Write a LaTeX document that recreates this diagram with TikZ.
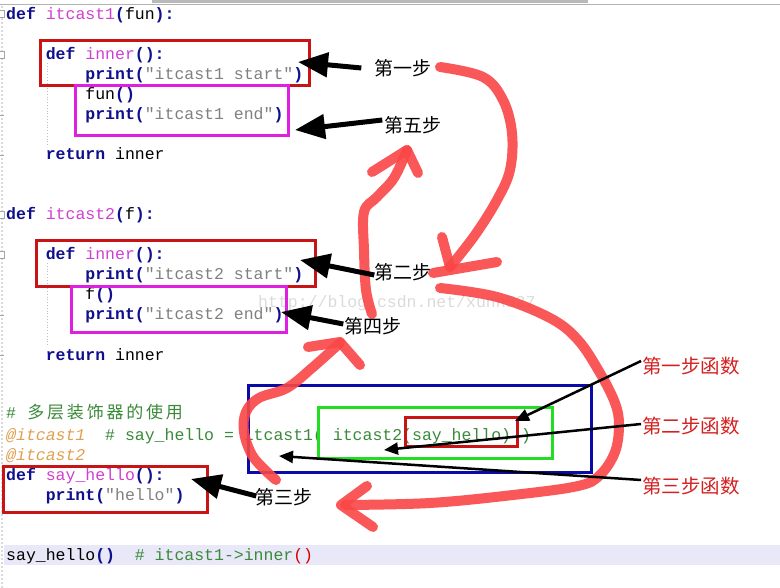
\documentclass[tikz,border=0pt]{standalone}
\usepackage{fontspec}
\setmonofont{Liberation Mono}
\newfontfamily\cjk{Noto Sans CJK SC}
\usetikzlibrary{arrows.meta}
\definecolor{kw}{HTML}{10108C}
\definecolor{fn}{HTML}{D040D0}
\definecolor{strc}{HTML}{808080}
\definecolor{cmt}{HTML}{3A8A3A}
\definecolor{deco}{HTML}{E0A050}
\definecolor{boxred}{HTML}{C81414}
\definecolor{boxmag}{HTML}{E020E0}
\definecolor{boxblue}{HTML}{0A0AA8}
\definecolor{boxgreen}{HTML}{22DD22}
\definecolor{penred}{HTML}{FA4646}
\definecolor{labred}{HTML}{D42020}
\definecolor{hiline}{HTML}{E8E8F8}
\newcommand\K[1]{{\bfseries\color{kw}#1}}
\newcommand\F[1]{{\color{fn}#1}}
\newcommand\Sx[1]{{\color{strc}#1}}
\newcommand\Cm[1]{{\color{cmt}#1}}
\newcommand\dw[1]{\makebox[19.8pt]{#1}}
\tikzset{
  code/.style={anchor=base west, inner sep=0pt, font=\ttfamily\fontsize{16.5}{20}\selectfont},
  lab/.style={inner sep=0pt, font=\cjk\fontsize{19}{19}\selectfont},
  rlab/.style={inner sep=0pt, text=labred, font=\cjk\fontsize{19.5}{19.5}\selectfont},
  bigarr/.style={draw=black, line width=5pt, -{Triangle[length=30pt,width=24pt]}},
  thinarr/.style={draw=black, line width=2.5pt, -{Triangle[length=14pt,width=12pt]}},
  pen/.style={draw=penred, line width=10pt, line cap=round, line join=round, opacity=0.9},
  codebox/.style={line width=3pt}
}
\begin{document}
\begin{tikzpicture}[x=1pt,y=-1pt]
\useasboundingbox (0,0) rectangle (780,588);
\fill[white] (0,0) rectangle (780,588);
% editor chrome
\fill[gray!55] (152,0) rectangle (588,3.5);
\draw[gray!60, line width=1pt] (0,5) -- (780,5);
\draw[gray!30, line width=2pt, dotted] (1.5,6) -- (1.5,588);
\draw[gray!70, line width=0.6pt, fill=white] (-3,10) rectangle (4,17);
\draw[gray!70, line width=0.6pt, fill=white] (-3,51) rectangle (4,58);
\draw[gray!70, line width=0.6pt, fill=white] (-3,211) rectangle (4,218);
\draw[gray!70, line width=0.6pt, fill=white] (-3,251) rectangle (4,258);
\foreach \yy in {115,155,315,355} \draw[gray!70, line width=0.6pt] (0,\yy) -- (4,\yy);
\draw[gray!50, line width=0.8pt, dotted] (47.5,63) -- (47.5,147);
\draw[gray!50, line width=0.8pt, dotted] (47.5,263) -- (47.5,347);
\fill[hiline] (4,545) rectangle (780,565);
% watermark
\node[anchor=west, inner sep=0pt, text=gray!28, font=\ttfamily\fontsize{16.5}{20}\selectfont] (wm) at (258,303) {http://blog.csdn.net/xunn527};
% code
\node[code] (c1) at (6,20) {\K{def} \F{itcast1}\K{(}fun\K{):}};
\node[code] (c2) at (45.6,60) {\K{def} \F{inner}\K{():}};
\node[code] (c3) at (85.2,80) {\K{print(}\Sx{"itcast1 start"}\K{)}};
\node[code] (c4) at (85.2,100) {fun\K{()}};
\node[code] (c5) at (85.2,120) {\K{print(}\Sx{"itcast1 end"}\K{)}};
\node[code] (c6) at (45.6,160) {\K{return} inner};
\node[code] (c7) at (6,220) {\K{def} \F{itcast2}\K{(}f\K{):}};
\node[code] (c8) at (45.6,260) {\K{def} \F{inner}\K{():}};
\node[code] (c9) at (85.2,280) {\K{print(}\Sx{"itcast2 start"}\K{)}};
\node[code] (c10) at (85.2,300) {f\K{()}};
\node[code] (c11) at (85.2,320) {\K{print(}\Sx{"itcast2 end"}\K{)}};
\node[code] (c12) at (45.6,360) {\K{return} inner};
\node[code] (c13) at (6,418) {\Cm{\#~{\cjk\fontsize{17}{17}\selectfont\dw{多}\dw{层}\dw{装}\dw{饰}\dw{器}\dw{的}\dw{使}\dw{用}}}};
\node[code] (c14) at (6,440) {{\itshape\color{deco}@itcast1}~~\Cm{\#~say\_hello~=~itcast1(~itcast2(say\_hello)~)}};
\node[code] (c15) at (6,460) {{\itshape\color{deco}@itcast2}};
\node[code] (c16) at (6,480) {\K{def} \F{say\_hello}\K{():}};
\node[code] (c17) at (45.6,500) {\K{print(}\Sx{"hello"}\K{)}};
\node[code] (c18) at (6,560) {say\_hello\K{()}~~\Cm{\#~itcast1->inner}{\color{red!85!black}()}};
% boxes
\draw[codebox, boxred] (40,41) rectangle (309,86);
\draw[codebox, boxmag] (75,86) rectangle (288,136);
\draw[codebox, boxred] (36,241) rectangle (315,287);
\draw[codebox, boxmag] (71,287) rectangle (286,333);
\draw[codebox, boxred] (3,466) rectangle (207,512);
\draw[codebox, boxblue] (248,386) rectangle (591,472);
\draw[codebox, boxgreen] (318,407) rectangle (552,458);
\draw[codebox, boxred] (405,417) rectangle (517,446);
% red pen strokes
\draw[pen] plot[smooth, tension=0.6] coordinates {(440,67) (483,77) (503,100) (512,133) (510,170) (497,200) (475,235) (450,267)};
\draw[pen] (442,237) -- (450,267);
\draw[pen] (433,273) -- (497,262);
\draw[pen] plot[smooth, tension=0.6] coordinates {(440,288) (497,297) (550,318) (578,340) (600,373) (615,403) (619,425) (615,452) (600,475) (578,486) (513,495) (430,503) (345,505)};
\draw[pen] (367,486) -- (341,505) -- (373,527);
\draw[pen] plot[smooth, tension=0.6] coordinates {(340,343) (312,368) (287,388) (259,398) (246,412) (244,432) (252,455) (266,471) (276,480)};
\draw[pen] (308,347) -- (340,342) -- (360,365);
\draw[pen] plot[smooth, tension=0.6] coordinates {(372,314) (366,290) (364,250) (364,212) (377,197) (394,178) (407,150)};
\draw[pen] (372,172) -- (407,150) -- (418,173);
% labels
\node[lab] (s1) at (403,68) {第一步};
\node[lab] (s5) at (413,125) {第五步};
\node[lab] (s2) at (403,272) {第二步};
\node[lab] (s4) at (373,326) {第四步};
\node[lab] (s3) at (284,497) {第三步};
\node[rlab] (f1) at (691,366) {第一步函数};
\node[rlab] (f2) at (691,426) {第二步函数};
\node[rlab] (f3) at (691,486) {第三步函数};
% arrow tips
\coordinate (t1) at (298,62);
\coordinate (t5) at (295,130);
\coordinate (t2) at (300,260);
\coordinate (t4) at (281,312);
\coordinate (t3) at (191,479);
\coordinate (u1) at (515,421);
\coordinate (u2) at (384,450);
\coordinate (u3) at (279,456);
% arrows
\draw[bigarr] ([xshift=-13pt,yshift=0pt]s1.west) -- (t1);
\draw[bigarr] ([xshift=-2pt,yshift=5pt]s5.west) -- (t5);
\draw[bigarr] ([xshift=0pt,yshift=-3pt]s2.west) -- (t2);
\draw[bigarr] ([xshift=-1pt,yshift=2pt]s4.west) -- (t4);
\draw[bigarr] ([xshift=1pt,yshift=1pt]s3.west) -- (t3);
\draw[thinarr] ([xshift=-1pt,yshift=5pt]f1.west) -- (u1);
\draw[thinarr] ([xshift=-1pt,yshift=2pt]f2.west) -- (u2);
\draw[thinarr] ([xshift=-1pt,yshift=6pt]f3.west) -- (u3);
\end{tikzpicture}
\end{document}
